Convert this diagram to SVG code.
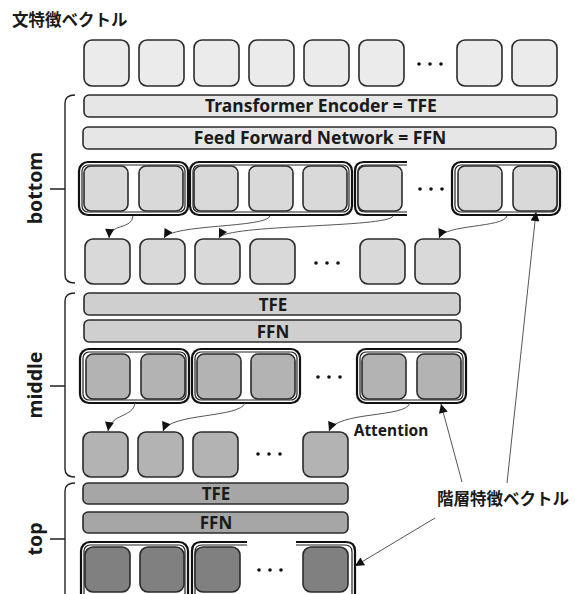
<svg xmlns="http://www.w3.org/2000/svg" width="575" height="594" viewBox="0 0 575 594">
<defs>
<style>
.box{stroke:#2b2b2b;stroke-width:1.6}
.c0{fill:#ebebeb}.c1{fill:#d9d9d9}.c2{fill:#b3b3b3}.c3{fill:#808080}
.b1{fill:#e6e6e6}.b2{fill:#cfcfcf}.b3{fill:#a6a6a6}
.bar{stroke:#2b2b2b;stroke-width:1.6}
.go{fill:none;stroke:#111;stroke-width:2.2}
.gi{fill:none;stroke:#222;stroke-width:1.2}
.dot{fill:#111}
.br{fill:none;stroke:#222;stroke-width:1.4}
.lbl{font-family:"Noto Sans","Open Sans",sans-serif;font-weight:bold;fill:#1a1a1a}
.jp{font-family:"Noto Sans CJK JP",sans-serif;font-weight:bold;fill:#1a1a1a}
.con{fill:none;stroke:#555;stroke-width:1}
</style>
<marker id="ah" viewBox="0 0 10 10" refX="10" refY="5" markerWidth="10" markerHeight="9" markerUnits="userSpaceOnUse" orient="auto">
<path d="M0,0 L10,5 L0,10 Z" fill="#111"/>
</marker>
</defs>
<rect width="575" height="594" fill="#fff"/>

<g id="title"><text class="jp" x="12" y="26" font-size="16.5">文特徴ベクトル</text></g>

<g id="sentence-vectors">
<rect class="box c0" x="84" y="40" width="45" height="46" rx="8"/>
<rect class="box c0" x="139" y="40" width="45" height="46" rx="8"/>
<rect class="box c0" x="194" y="40" width="45" height="46" rx="8"/>
<rect class="box c0" x="249" y="40" width="45" height="46" rx="8"/>
<rect class="box c0" x="304" y="40" width="45" height="46" rx="8"/>
<rect class="box c0" x="359" y="40" width="45" height="46" rx="8"/>
<circle class="dot" cx="419" cy="64" r="1.8"/><circle class="dot" cx="430" cy="64" r="1.8"/><circle class="dot" cx="441" cy="64" r="1.8"/>
<rect class="box c0" x="457" y="40" width="45" height="46" rx="8"/>
<rect class="box c0" x="512" y="40" width="45" height="46" rx="8"/>
</g>

<!-- bottom layer -->
<g id="bottom-layer">
<path class="br" d="M75,95 Q65,95 65,103 L65,275 Q65,283 75,283 M50,189 L65,189"/>
<text class="lbl" font-size="19.5" text-anchor="middle" transform="translate(42,188) rotate(-90)">bottom</text>
<rect class="bar b1" x="84" y="95" width="473" height="22" rx="5"/>
<text class="lbl" font-size="17.5" x="321" y="112" text-anchor="middle">Transformer Encoder = TFE</text>
<rect class="bar b1" x="83" y="127" width="473" height="22" rx="5"/>
<text class="lbl" font-size="17.5" x="320" y="144" text-anchor="middle">Feed Forward Network = FFN</text>
<rect class="go" x="79" y="162" width="109" height="53" rx="9"/><rect class="gi" x="82" y="165" width="103" height="47" rx="6"/>
<rect class="go" x="190" y="162" width="162" height="53" rx="9"/><rect class="gi" x="193" y="165" width="156" height="47" rx="6"/>
<path class="go" d="M407,162 L364,162 Q355,162 355,171 L355,206 Q355,215 364,215 L407,215"/>
<path class="gi" d="M407,165 L365,165 Q358,165 358,172 L358,205 Q358,212 365,212 L407,212"/>
<rect class="go" x="452" y="162" width="108" height="53" rx="9"/><rect class="gi" x="455" y="165" width="102" height="47" rx="6"/>
<rect class="box c1" x="84" y="166" width="44" height="45" rx="7"/>
<rect class="box c1" x="139" y="166" width="44" height="45" rx="7"/>
<rect class="box c1" x="194" y="166" width="44" height="45" rx="7"/>
<rect class="box c1" x="249" y="166" width="44" height="45" rx="7"/>
<rect class="box c1" x="303" y="166" width="44" height="45" rx="7"/>
<rect class="box c1" x="358" y="166" width="44" height="45" rx="7"/>
<circle class="dot" cx="420" cy="189" r="1.8"/><circle class="dot" cx="431" cy="189" r="1.8"/><circle class="dot" cx="442" cy="189" r="1.8"/>
<rect class="box c1" x="458" y="166" width="44" height="45" rx="7"/>
<rect class="box c1" x="513" y="166" width="44" height="45" rx="7"/>
<rect class="box c1" x="85" y="239" width="45" height="45" rx="8"/>
<rect class="box c1" x="140" y="239" width="45" height="45" rx="8"/>
<rect class="box c1" x="195" y="239" width="45" height="45" rx="8"/>
<rect class="box c1" x="250" y="239" width="45" height="45" rx="8"/>
<circle class="dot" cx="316" cy="263" r="1.8"/><circle class="dot" cx="327" cy="263" r="1.8"/><circle class="dot" cx="338" cy="263" r="1.8"/>
<rect class="box c1" x="360" y="239" width="45" height="45" rx="8"/>
<rect class="box c1" x="415" y="239" width="45" height="45" rx="8"/>
</g>

<!-- middle layer -->
<g id="middle-layer">
<path class="br" d="M75,293 Q65,293 65,301 L65,469 Q65,477 75,477 M50,386 L65,386"/>
<text class="lbl" font-size="19.5" text-anchor="middle" transform="translate(42,385) rotate(-90)">middle</text>
<rect class="bar b2" x="84" y="293" width="376" height="22" rx="5"/>
<text class="lbl" font-size="17" x="273" y="310.5" text-anchor="middle">TFE</text>
<rect class="bar b2" x="84" y="320" width="377" height="22" rx="5"/>
<text class="lbl" font-size="17" x="273" y="337.5" text-anchor="middle">FFN</text>
<rect class="go" x="80" y="349" width="109" height="54" rx="9"/><rect class="gi" x="83" y="352" width="103" height="48" rx="6"/>
<rect class="go" x="192" y="349" width="108" height="54" rx="9"/><rect class="gi" x="195" y="352" width="102" height="48" rx="6"/>
<rect class="go" x="357" y="349" width="109" height="54" rx="9"/><rect class="gi" x="360" y="352" width="103" height="48" rx="6"/>
<rect class="box c2" x="86" y="354" width="44" height="45" rx="7"/>
<rect class="box c2" x="141" y="354" width="44" height="45" rx="7"/>
<rect class="box c2" x="197" y="354" width="44" height="45" rx="7"/>
<rect class="box c2" x="251" y="354" width="44" height="45" rx="7"/>
<circle class="dot" cx="318" cy="377" r="1.8"/><circle class="dot" cx="329" cy="377" r="1.8"/><circle class="dot" cx="340" cy="377" r="1.8"/>
<rect class="box c2" x="362" y="354" width="44" height="45" rx="7"/>
<rect class="box c2" x="417" y="354" width="44" height="45" rx="7"/>
<rect class="box c2" x="83" y="432" width="45" height="45" rx="8"/>
<rect class="box c2" x="138" y="432" width="45" height="45" rx="8"/>
<rect class="box c2" x="193" y="432" width="45" height="45" rx="8"/>
<circle class="dot" cx="258" cy="454" r="1.8"/><circle class="dot" cx="269" cy="454" r="1.8"/><circle class="dot" cx="280" cy="454" r="1.8"/>
<rect class="box c2" x="303" y="432" width="45" height="45" rx="8"/>
<text class="lbl" font-size="15.5" x="391" y="435.5" text-anchor="middle">Attention</text>
</g>

<!-- top layer -->
<g id="top-layer">
<path class="br" d="M75,483 Q65,483 65,491 L65,600 M50,539 L65,539"/>
<text class="lbl" font-size="19.5" text-anchor="middle" transform="translate(42,539) rotate(-90)">top</text>
<rect class="bar b3" x="83" y="483" width="265" height="21" rx="5"/>
<text class="lbl" font-size="17" x="216" y="500" text-anchor="middle">TFE</text>
<rect class="bar b3" x="83" y="512" width="265" height="21" rx="5"/>
<text class="lbl" font-size="17" x="216" y="529" text-anchor="middle">FFN</text>
<rect class="go" x="81" y="542" width="107" height="80" rx="9"/><rect class="gi" x="84" y="545" width="101" height="74" rx="6"/>
<path class="go" d="M247,542 L201,542 Q192,542 192,551 L192,600"/>
<path class="gi" d="M247,545 L202,545 Q195,545 195,552 L195,600"/>
<path class="go" d="M296,542 L346,542 Q355,542 355,551 L355,600"/>
<path class="gi" d="M296,545 L345,545 Q352,545 352,552 L352,600"/>
<rect class="box c3" x="85" y="547" width="45" height="45" rx="8"/>
<rect class="box c3" x="140" y="547" width="44" height="45" rx="8"/>
<rect class="box c3" x="195" y="547" width="45" height="45" rx="8"/>
<circle class="dot" cx="259" cy="570" r="1.8"/><circle class="dot" cx="270" cy="570" r="1.8"/><circle class="dot" cx="281" cy="570" r="1.8"/>
<rect class="box c3" x="303" y="547" width="45" height="45" rx="8"/>
</g>

<g id="hier-label"><text class="jp" x="437" y="505" font-size="16.5">階層特徴ベクトル</text></g>

<g id="connectors">
<path class="con" marker-end="url(#ah)" d="M133,216 C132,230 110,223 109,238"/>
<path class="con" marker-end="url(#ah)" d="M270,216 C266,228 172,224 164,238"/>
<path class="con" marker-end="url(#ah)" d="M393,216 C388,228 226,224 219,238"/>
<path class="con" marker-end="url(#ah)" d="M507,216 C503,228 445,224 439,238"/>
<path class="con" marker-end="url(#ah)" d="M135,403 C133,418 111,413 108,431"/>
<path class="con" marker-end="url(#ah)" d="M245,403 C240,418 170,413 163,431"/>
<path class="con" marker-end="url(#ah)" d="M410,403 C406,418 337,411 329,431"/>
<path class="con" marker-end="url(#ah)" d="M462,482 L441,404"/>
<path class="con" marker-end="url(#ah)" d="M507,483 L536,212"/>
<path class="con" marker-end="url(#ah)" d="M435,518 L355,566"/>
</g>
</svg>
